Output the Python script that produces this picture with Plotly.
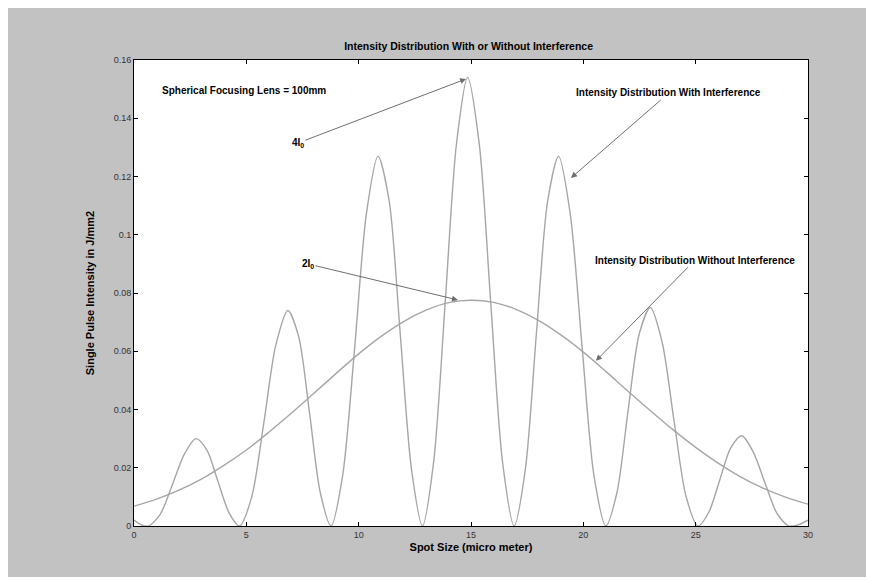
import plotly.graph_objects as go

# ---- data ----
x_interf = [0.0, 0.3, 0.65, 1.18, 1.70, 2.23, 2.76, 3.25, 3.73, 4.22, 4.70,
            5.24, 5.78, 6.31, 6.85, 7.33, 7.81, 8.29, 8.77,
            9.29, 9.82, 10.34, 10.86, 11.36, 11.85, 12.35, 12.84,
            13.34, 13.85, 14.35, 14.85, 15.37, 15.88, 16.40, 16.92,
            17.42, 17.91, 18.41, 18.90, 19.42, 19.95, 20.47, 21.00,
            21.50, 21.99, 22.49, 22.98, 23.51, 24.04, 24.57, 25.10,
            25.59, 26.08, 26.56, 27.05, 27.57, 28.10, 28.62, 29.15, 29.6, 30.0]
y_interf = [0.0020, 0.0005, 0.0, 0.0042, 0.0140, 0.0245, 0.0300, 0.0260, 0.0155, 0.0047, 0.0,
            0.0100, 0.0355, 0.0620, 0.0740, 0.0650, 0.0390, 0.0115, 0.0,
            0.0175, 0.0610, 0.1070, 0.1270, 0.1115, 0.0660, 0.0195, 0.0,
            0.0222, 0.0765, 0.1310, 0.1540, 0.1310, 0.0765, 0.0222, 0.0,
            0.0195, 0.0660, 0.1115, 0.1270, 0.1070, 0.0610, 0.0175, 0.0,
            0.0116, 0.0395, 0.0660, 0.0750, 0.0630, 0.0360, 0.0102, 0.0,
            0.0048, 0.0160, 0.0268, 0.0310, 0.0253, 0.0145, 0.0043, 0.0, 0.0005, 0.0020]

x_gauss = list(range(0, 31))
y_gauss = [0.0068, 0.0092, 0.0123, 0.0161, 0.0208, 0.0261, 0.0322, 0.0387, 0.0455, 0.0524,
           0.0591, 0.0651, 0.0702, 0.0741, 0.0767, 0.0775, 0.0768, 0.0744, 0.0706, 0.0656,
           0.0597, 0.0531, 0.0462, 0.0395, 0.0330, 0.0270, 0.0216, 0.0169, 0.0130, 0.0099, 0.0075]

x_ticks = [0, 5, 10, 15, 20, 25, 30]
x_ticklabels = ["0", "5", "10", "15", "20", "25", "30"]
y_ticks = [0, 0.02, 0.04, 0.06, 0.08, 0.1, 0.12, 0.14, 0.16]
y_ticklabels = ["0", "0.02", "0.04", "0.06", "0.08", "0.1", "0.12", "0.14", "0.16"]

title_text = "Intensity Distribution With or Without Interference"
xlabel_text = "Spot Size (micro meter)"
ylabel_text = "Single Pulse Intensity in J/mm2"
lens_text = "Spherical Focusing Lens = 100mm"
with_text = "Intensity Distribution With Interference"
without_text = "Intensity Distribution Without Interference"

line_col = "#a6a6a6"
font_fam = "Liberation Sans, Arial, sans-serif"

fig = go.Figure()
fig.add_trace(go.Scatter(x=x_interf, y=y_interf, mode="lines",
                         line=dict(color=line_col, width=1.4, shape="spline", smoothing=0.8),
                         showlegend=False, hoverinfo="skip"))
fig.add_trace(go.Scatter(x=x_gauss, y=y_gauss, mode="lines",
                         line=dict(color=line_col, width=1.4, shape="spline"),
                         showlegend=False, hoverinfo="skip"))

axis_common = dict(showline=True, linecolor="black", linewidth=1, mirror="ticks",
                   ticks="inside", ticklen=4, tickcolor="black", showgrid=False,
                   zeroline=False, tickfont=dict(family=font_fam, size=9, color="#333"))

fig.update_xaxes(range=[0, 30], tickvals=x_ticks, ticktext=x_ticklabels,
                 title=dict(text="<b>" + xlabel_text + "</b>", standoff=4,
                            font=dict(family=font_fam, size=11, color="black")),
                 **axis_common)
fig.update_yaxes(range=[0, 0.16], tickvals=y_ticks, ticktext=y_ticklabels,
                 title=dict(text="<b>" + ylabel_text + "</b>", standoff=16,
                            font=dict(family=font_fam, size=11, color="black")),
                 **axis_common)

txtfont = dict(family=font_fam, size=10, color="black")
arrow_style = dict(showarrow=True, arrowhead=2, arrowsize=1.2, arrowwidth=1,
                   arrowcolor="#6e6e6e", xref="x", yref="y", axref="x", ayref="y")
ann = [
    # label placed at (ax, ay), arrow pointing to (x, y)
    dict(text="<b>4I<sub>0</sub></b>", x=14.78, y=0.1535, ax=7.30, ay=0.1315,
         font=dict(family=font_fam, size=10, color="black"), **arrow_style),
    dict(text="<b>2I<sub>0</sub></b>", x=14.42, y=0.0776, ax=7.74, ay=0.0900,
         font=dict(family=font_fam, size=10, color="black"), **arrow_style),
    dict(text="<b>" + with_text + "</b>", x=19.45, y=0.1195, ax=23.81, ay=0.1487,
         font=txtfont, **arrow_style),
    dict(text="<b>" + without_text + "</b>", x=20.56, y=0.0567, ax=24.97, ay=0.0913,
         font=txtfont, **arrow_style),
    dict(x=4.90, y=0.1497, xref="x", yref="y", text="<b>" + lens_text + "</b>",
         showarrow=False, font=dict(family=font_fam, size=10, color="black")),
]

fig.update_layout(width=874, height=577,
                  margin=dict(l=126, r=74, t=52, b=59, autoexpand=False),
                  paper_bgcolor="#c2c2c2", plot_bgcolor="white",
                  title=dict(text="<b>" + title_text + "</b>", x=0.527, xanchor="center",
                             y=1 - 38 / 577, yanchor="middle", yref="container",
                             font=dict(family=font_fam, size=10.5, color="black")),
                  annotations=ann)

fig.write_html("out.html")
